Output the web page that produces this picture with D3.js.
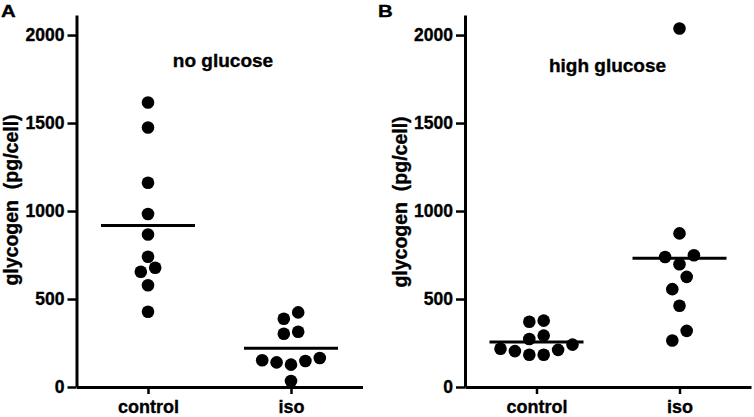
<!DOCTYPE html>
<html>
<head>
<meta charset="utf-8">
<script src="https://cdn.jsdelivr.net/npm/d3@7"></script>
<style>
  html, body { margin: 0; padding: 0; background: #fff; }
  svg { display: block; }
  text { font-family: "Liberation Sans", Arial, Helvetica, sans-serif; font-weight: bold; fill: #000; stroke: #000; stroke-width: 0.35px; white-space: pre; }
</style>
</head>
<body>
<svg id="chart" width="754" height="417"></svg>
<script>
// ---- data ----
const categories = ["control", "iso"];
const panelLetters = ["A", "B"];
const panelTitles = ["no glucose", "high glucose"];
const yAxisTitle = "glycogen  (pg/cell)";
const yTicks = [0, 500, 1000, 1500, 2000];
const yTop = 2114;

const noGlucoseControl = [1617, 1475, 1161, 983, 867, 740, 678, 655, 578, 428];
const noGlucoseIso     = [424, 388, 314, 303, 165, 152, 148, 140, 127, 34];
const highGlucoseControl = [377, 371, 292, 273, 241, 217, 211, 204, 183, 183];
const highGlucoseIso     = [2037, 873, 749, 739, 698, 626, 556, 462, 319, 264];

const panels = [
  { letter: panelLetters[0], title: panelTitles[0], groups: [noGlucoseControl, noGlucoseIso] },
  { letter: panelLetters[1], title: panelTitles[1], groups: [highGlucoseControl, highGlucoseIso] }
];

// ---- layout ----
const svg = d3.select("#chart");
const originX = [76.5, 465];
const plotW = 286;
const yBottom = 387, yTopPx = 15;
const titleBaseline = [67.3, 71.7];
const titleCenter = [223, 607.5];
const R = 6.3, U = 7.2, ROW_H = 13, MEAN_HALF = 47;

function swarm(vals, y) {
  const idx = d3.range(vals.length).sort((a, b) => vals[a] - vals[b]);
  const off = new Array(vals.length).fill(0);
  let i = 0;
  while (i < idx.length) {
    const start = y(vals[idx[i]]);
    const row = [idx[i]];
    let j = i + 1;
    while (j < idx.length && start - y(vals[idx[j]]) <= ROW_H) { row.push(idx[j]); j++; }
    const n = row.length;
    row.forEach((k, m) => {
      if (n % 2) {
        if (m === 0) off[k] = 0;
        else { const s = Math.ceil(m / 2); off[k] = (m % 2 ? -1 : 1) * 2 * s * U; }
      } else {
        const s = Math.floor(m / 2); off[k] = (m % 2 ? 1 : -1) * (2 * s + 1) * U;
      }
    });
    i = j;
  }
  return off;
}

panels.forEach((p, pi) => {
  const g = svg.append("g").attr("transform", `translate(${originX[pi]},0)`);
  const y = d3.scaleLinear().domain([0, yTop]).range([yBottom, yTopPx]);
  const x = d3.scalePoint().domain(categories).range([0, plotW]).padding(0.5);

  // y axis
  const ya = g.append("g")
    .call(d3.axisLeft(y).tickValues(yTicks).tickSize(9).tickSizeOuter(0).tickPadding(3).tickFormat(d3.format("d")));
  ya.select(".domain").attr("stroke", "#000").attr("stroke-width", 3);
  ya.selectAll(".tick line").attr("stroke", "#000").attr("stroke-width", 2.5);
  ya.selectAll(".tick text").style("font-size", "17.5px").attr("fill", "#000");

  // x axis
  const xa = g.append("g").attr("transform", `translate(0,${yBottom})`)
    .call(d3.axisBottom(x).tickSize(7).tickSizeOuter(0).tickPadding(6));
  xa.select(".domain").attr("stroke", "#000").attr("stroke-width", 3);
  xa.selectAll(".tick line").attr("stroke", "#000").attr("stroke-width", 2.5);
  xa.selectAll(".tick text").style("font-size", "18px").attr("fill", "#000");

  // points and means
  p.groups.forEach((vals, gi) => {
    const cx = x(categories[gi]);
    const off = swarm(vals, y);
    g.append("g").selectAll("circle").data(vals).join("circle")
      .attr("cx", (d, i) => cx + off[i])
      .attr("cy", d => y(d))
      .attr("r", R)
      .attr("fill", "#000");
    const m = d3.mean(vals);
    g.append("line")
      .attr("x1", cx - MEAN_HALF).attr("x2", cx + MEAN_HALF)
      .attr("y1", y(m)).attr("y2", y(m))
      .attr("stroke", "#000").attr("stroke-width", 3);
  });

  // titles
  g.append("text")
    .attr("x", titleCenter[pi] - originX[pi])
    .attr("y", titleBaseline[pi])
    .attr("text-anchor", "middle")
    .style("font-size", "19px")
    .text(p.title);

  // y axis title
  g.append("text")
    .attr("transform", `translate(-58.5,${200 + pi * 2}) rotate(-90)`)
    .attr("text-anchor", "middle")
    .style("font-size", "19.5px")
    .text(yAxisTitle);

  // panel letter
  const lx = pi === 0 ? 1 : 378;
  svg.append("text")
    .attr("x", lx)
    .attr("y", 16.7)
    .style("font-size", "17px")
    .attr("transform", `translate(${lx},0) scale(1.2,1) translate(${-lx},0)`)
    .text(p.letter);
});
</script>
</body>
</html>
